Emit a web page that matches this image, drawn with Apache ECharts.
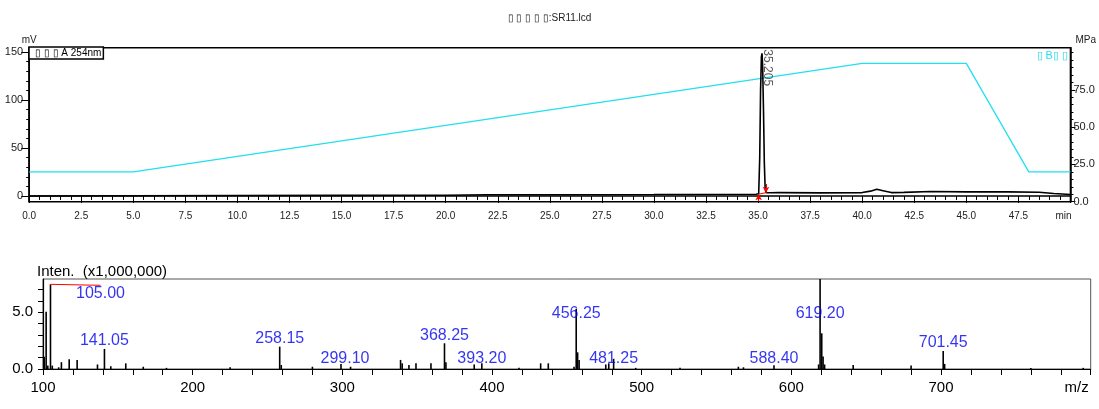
<!DOCTYPE html>
<html><head><meta charset="utf-8">
<script src="https://cdn.jsdelivr.net/npm/echarts@6/dist/echarts.min.js"></script>
<style>html,body{margin:0;padding:0;background:#fff}#c{width:1099px;height:409px}</style>
</head><body><div id="c"></div>
<script>
// ================= DATA =================
const titleText = '▯ ▯ ▯ ▯ ▯:SR11.lcd';
const chromName = '▯ ▯ ▯ A 254nm';
const gradName = '▯ B▯ ▯';
const msTitle = 'Inten.  (x1,000,000)';

// chromatogram (min, mV)
const chromTime = [0, 5, 10, 15, 20, 22, 25, 30, 34.9, 35.03, 35.08, 35.12, 35.16, 35.19, 35.22, 35.26, 35.3, 35.34, 35.38, 35.6, 36, 38, 40, 40.4, 40.7, 41.0, 41.4, 42, 43.3, 45, 47, 48.5, 49.2, 50];
const chromMV   = [0, 0.2, 0.4, 0.6, 0.8, 1.2, 1.3, 1.5, 1.8, 2.2, 40, 110, 145, 148.6, 135, 90, 35, 8, 3.5, 3.4, 3.5, 3.2, 3.5, 5, 7, 5.5, 3.5, 3.7, 4.6, 4.2, 4.2, 3.8, 2.5, 1.5];
// gradient (min, right-axis value)
const gradTime = [0, 5, 40, 45, 48, 50];
const gradVal  = [20, 20, 92.7, 92.7, 20, 20];
// peak annotation
const peakRT = 35.205;
const peakApexMV = 148.6;
const integTime = [35.03, 35.38];
const integMV = [1.8, 3.4];
// axis ticks
const timeLabelStep = 2.5;
const mvMinorTicks = [0,10,20,30,40,50,60,70,80,90,100,110,120,130,140,150];
const mvLabels = [0, 50, 100, 150];
const mpaMinorTicks = [0,5,10,15,20,25,30,35,40,45,50,55,60,65,70,75,80,85,90,95,100];
const mpaLabels = [0, 25, 50, 75];

// mass spectrum (m/z, intensity x1,000,000)
const msMz  = [100.8, 102.1, 103.2, 105.00, 106.2, 110.5, 112.3, 117.5, 122.8, 136.4, 141.05, 145.3, 155.3, 167.0, 182.5, 225.0, 258.15, 259.2, 280.0, 299.10, 305.5, 338.9, 340.0, 344.5, 349.2, 359.2, 368.25, 369.2, 388.1, 393.20, 418.0, 432.5, 437.6, 454.8, 456.25, 457.2, 458.2, 476.0, 478.0, 481.25, 496.0, 525.6, 564.6, 568.0, 588.40, 618.2, 619.20, 620.3, 621.2, 622.2, 641.3, 680.0, 701.45, 702.4, 760.0, 795.0];
const msInt = [1.08, 5.06, 0.3, 7.47, 0.3, 0.15, 0.6, 0.86, 0.8, 0.4, 1.77, 0.25, 0.5, 0.2, 0.1, 0.15, 1.97, 0.35, 0.2, 0.44, 0.2, 0.8, 0.5, 0.35, 0.5, 0.5, 2.27, 0.6, 0.4, 0.5, 0.1, 0.5, 0.5, 0.2, 5.3, 1.47, 0.8, 0.4, 0.5, 0.9, 0.1, 0.12, 0.2, 0.15, 0.33, 0.4, 7.94, 3.15, 1.1, 0.4, 0.35, 0.3, 1.59, 0.45, 0.08, 0.1];
const msLabeled = [105.00, 141.05, 258.15, 299.10, 368.25, 393.20, 456.25, 481.25, 588.40, 619.20, 701.45];

// ================= CHART =================
const narrow = '"Liberation Sans", Arial, sans-serif';
const sans = '"Liberation Sans", Arial, sans-serif';
const zip = (a, b) => a.map((v, i) => [v, b[i]]);
const intensityOf = m => msInt[msMz.indexOf(m)];
const labelAnchor = (h, i) => i === 0 ? h : (h < 1.3 ? 0.2 : Math.min(h, 4.15));

const chart = echarts.init(document.getElementById('c'), null, {renderer: 'canvas'});
const option = {
  animation: false,
  backgroundColor: '#fff',
  title: [
    {text: titleText, left: 'center', top: 8, textStyle: {fontFamily: narrow, fontSize: 10, fontWeight: 'normal', color: '#222'}},
    {text: msTitle, left: 32, top: 259, textStyle: {fontFamily: sans, fontSize: 15, fontWeight: 'normal', color: '#000'}}
  ],
  legend: [
    {data: [chromName], left: 29, top: 47, orient: 'horizontal', itemWidth: 0, itemHeight: 0, itemGap: 0,
     padding: [1, 2, 1, 0], borderColor: '#000', borderWidth: 1.5, backgroundColor: '#fff',
     textStyle: {fontFamily: narrow, fontSize: 10, color: '#000'}, selectedMode: false},
    {data: [gradName], right: 31, top: 50, itemWidth: 0, itemHeight: 0, padding: 0,
     textStyle: {fontFamily: narrow, fontSize: 11, color: '#22e0ee'}, selectedMode: false}
  ],
  grid: [
    {left: 29.2, right: 28.3, top: 47.7, height: 154, show: true, borderColor: '#000', borderWidth: 1.5, containLabel: false},
    {left: 43, right: 8.3, top: 279, height: 90, show: true, borderColor: '#555', borderWidth: 1, containLabel: false}
  ],
  xAxis: [
    {gridIndex: 0, type: 'value', min: 0, max: 50, interval: timeLabelStep,
     axisLine: {lineStyle: {color: '#000', width: 1.5}},
     axisTick: {length: 7, lineStyle: {color: '#000'}},
     minorTick: {show: true, splitNumber: 5, length: 4, lineStyle: {color: '#000'}},
     splitLine: {show: false},
     axisLabel: {fontFamily: narrow, fontSize: 10, color: '#222', margin: 10,
       formatter: v => v === 50 ? '{m|min}' : v.toFixed(1),
       rich: {m: {fontFamily: narrow, fontSize: 10, color: '#222', padding: [0, 14, 0, 0]}}}},
    {gridIndex: 1, type: 'value', min: 100, max: 800, interval: 100,
     axisLine: {lineStyle: {color: '#000', width: 1.2}},
     axisTick: {length: 6, lineStyle: {color: '#000'}},
     minorTick: {show: true, splitNumber: 5, length: 6, lineStyle: {color: '#000'}},
     splitLine: {show: false},
     axisLabel: {fontFamily: sans, fontSize: 15, color: '#000', margin: 11,
       formatter: v => v === 800 ? '{m|m/z}' : String(v),
       rich: {m: {fontFamily: sans, fontSize: 15, color: '#000', padding: [0, 28, 0, 0]}}}}
  ],
  yAxis: [
    {gridIndex: 0, type: 'value', position: 'left', min: -6, max: 154.5,
     axisLine: {show: true, lineStyle: {color: '#000', width: 1.5}},
     axisTick: {show: true, length: 3, customValues: mvMinorTicks, lineStyle: {color: '#000'}},
     axisLabel: {show: false}, splitLine: {show: false},
     name: 'mV', nameLocation: 'end', nameGap: 2,
     nameTextStyle: {fontFamily: narrow, fontSize: 10, color: '#222'}},
    {gridIndex: 0, type: 'value', position: 'left', min: -6, max: 154.5,
     axisLine: {show: false},
     axisTick: {show: true, length: 8, customValues: mvLabels, lineStyle: {color: '#000'}},
     axisLabel: {customValues: mvLabels, fontFamily: narrow, fontSize: 11, color: '#222', margin: 6},
     splitLine: {show: false}},
    {gridIndex: 0, type: 'value', position: 'right', min: 0, max: 103.2,
     axisLine: {show: true, lineStyle: {color: '#000', width: 1.5}},
     axisTick: {show: true, length: 3, customValues: mpaMinorTicks, lineStyle: {color: '#000'}},
     axisLabel: {show: false}, splitLine: {show: false},
     name: 'MPa', nameLocation: 'end', nameGap: 2,
     nameTextStyle: {fontFamily: narrow, fontSize: 10, color: '#222', align: 'left', padding: [0, 0, 0, 5]}},
    {gridIndex: 0, type: 'value', position: 'right', min: 0, max: 103.2,
     axisLine: {show: false},
     axisTick: {show: true, length: 5, customValues: mpaLabels, lineStyle: {color: '#000'}},
     axisLabel: {customValues: mpaLabels, fontFamily: narrow, fontSize: 11, color: '#222', margin: 3,
       formatter: v => v.toFixed(1)},
     splitLine: {show: false}},
    {gridIndex: 1, type: 'value', min: 0, max: 7.94, interval: 1,
     axisLine: {show: true, lineStyle: {color: '#000', width: 1.2}},
     axisTick: {show: true, length: 5, lineStyle: {color: '#000'}},
     axisLabel: {fontFamily: sans, fontSize: 15, color: '#000', margin: 10,
       formatter: v => (v === 0 || v === 5) ? v.toFixed(1) : '', showMaxLabel: false},
     splitLine: {show: false}}
  ],
  series: [
    {name: gradName, type: 'line', xAxisIndex: 0, yAxisIndex: 2, data: zip(gradTime, gradVal),
     symbol: 'none', lineStyle: {color: '#22e0ee', width: 1.3}, itemStyle: {color: '#22e0ee'}, z: 2},
    {name: chromName, type: 'line', xAxisIndex: 0, yAxisIndex: 0, data: zip(chromTime, chromMV),
     symbol: 'none', lineStyle: {color: '#000', width: 1.6}, itemStyle: {color: '#000'}, z: 3},
    {name: 'integration', type: 'line', xAxisIndex: 0, yAxisIndex: 0, data: zip(integTime, integMV),
     symbol: 'none', lineStyle: {color: '#f00', width: 1}, z: 4,
     markLine: {silent: true, symbol: ['none', 'arrow'], symbolSize: [5, 6],
       lineStyle: {color: '#f00', width: 1, type: 'solid'}, label: {show: false},
       data: [
         [{coord: [integTime[0], integMV[0] - 7.5]}, {coord: [integTime[0], integMV[0]]}],
         [{coord: [integTime[1], integMV[1] + 9]}, {coord: [integTime[1], integMV[1]]}]
       ]}},
    {name: 'rt', type: 'scatter', xAxisIndex: 0, yAxisIndex: 0, data: [[peakRT, peakApexMV]],
     symbolSize: 0, z: 5,
     label: {show: true, formatter: () => peakRT.toFixed(3), rotate: -90, position: [5, -4],
       align: 'left', verticalAlign: 'middle', fontFamily: sans, fontSize: 12, color: '#333'}},
    {name: 'ms', type: 'bar', xAxisIndex: 1, yAxisIndex: 4, data: zip(msMz, msInt),
     barWidth: 1.6, itemStyle: {color: '#000'}, z: 3},
    {name: 'mslabels', type: 'scatter', xAxisIndex: 1, yAxisIndex: 4, symbolSize: 0, z: 5,
     data: msLabeled.map((m, i) => i === 0
       ? {value: [m, labelAnchor(intensityOf(m), i)], labelLine: {show: true, lineStyle: {color: '#f00', width: 1}}}
       : {value: [m, labelAnchor(intensityOf(m), i)]}),
     label: {show: true, position: 'top', distance: 0, offset: [0, 5],
       formatter: p => p.value[0].toFixed(2), fontFamily: sans, fontSize: 16, color: '#0000ee'},
     labelLayout: p => p.dataIndex === 0 ? {dx: 50, dy: 17} : (p.dataIndex === 3 ? {dx: 4} : {}),
     labelLine: {show: false}}
  ]
};
chart.setOption(option);
</script>
</body></html>
